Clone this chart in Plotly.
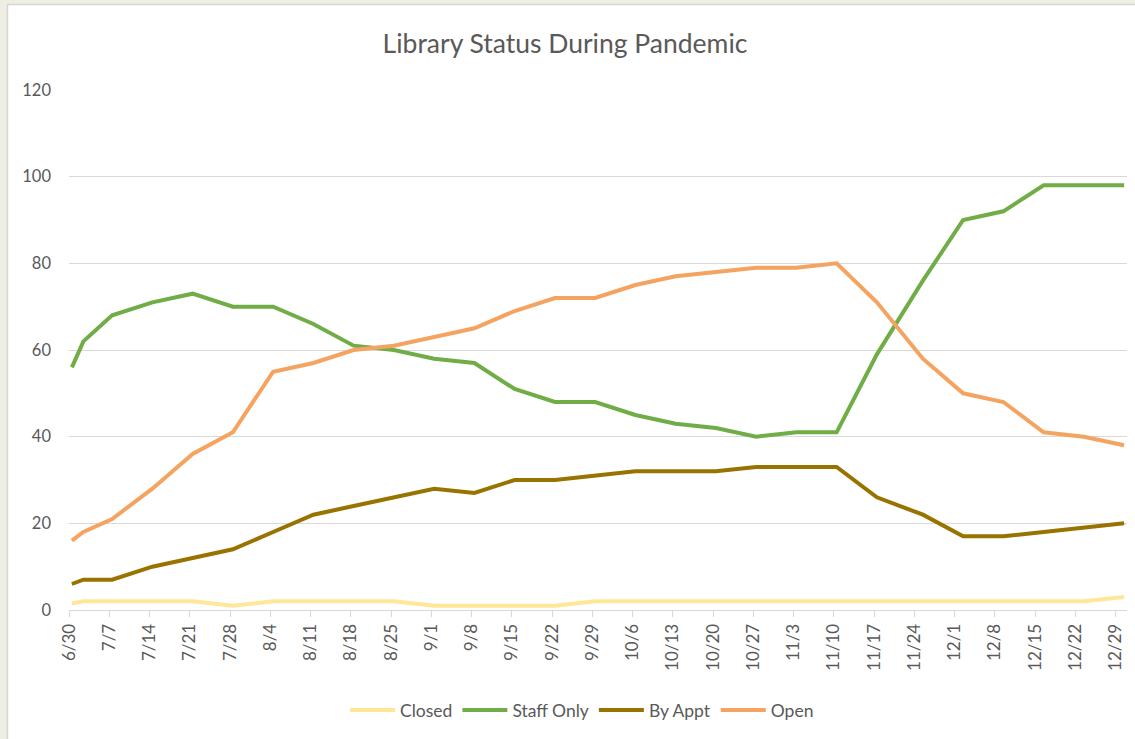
import plotly.graph_objects as go

# Data
dates = ["2020-06-30", "2020-07-02", "2020-07-07", "2020-07-14", "2020-07-21", "2020-07-28",
         "2020-08-04", "2020-08-11", "2020-08-18", "2020-08-25", "2020-09-01", "2020-09-08",
         "2020-09-15", "2020-09-22", "2020-09-29", "2020-10-06", "2020-10-13", "2020-10-20",
         "2020-10-27", "2020-11-03", "2020-11-10", "2020-11-17", "2020-11-25", "2020-12-02",
         "2020-12-09", "2020-12-16", "2020-12-23", "2020-12-30"]
closed = [1.5, 2, 2, 2, 2, 1, 2, 2, 2, 2, 1, 1, 1, 1, 2, 2, 2, 2, 2, 2, 2, 2, 2, 2, 2, 2, 2, 3]
staff_only = [56, 62, 68, 71, 73, 70, 70, 66, 61, 60, 58, 57, 51, 48, 48, 45, 43, 42, 40, 41, 41,
              59, 76, 90, 92, 98, 98, 98]
by_appt = [6, 7, 7, 10, 12, 14, 18, 22, 24, 26, 28, 27, 30, 30, 31, 32, 32, 32, 33, 33, 33,
           26, 22, 17, 17, 18, 19, 20]
open_ = [16, 18, 21, 28, 36, 41, 55, 57, 60, 61, 63, 65, 69, 72, 72, 75, 77, 78, 79, 79, 80,
         71, 58, 50, 48, 41, 40, 38]

tick_dates = ["2020-06-30", "2020-07-07", "2020-07-14", "2020-07-21", "2020-07-28", "2020-08-04",
              "2020-08-11", "2020-08-18", "2020-08-25", "2020-09-01", "2020-09-08", "2020-09-15",
              "2020-09-22", "2020-09-29", "2020-10-06", "2020-10-13", "2020-10-20", "2020-10-27",
              "2020-11-03", "2020-11-10", "2020-11-17", "2020-11-24", "2020-12-01", "2020-12-08",
              "2020-12-15", "2020-12-22", "2020-12-29"]
tick_labels = ["6/30", "7/7", "7/14", "7/21", "7/28", "8/4", "8/11", "8/18", "8/25", "9/1", "9/8",
               "9/15", "9/22", "9/29", "10/6", "10/13", "10/20", "10/27", "11/3", "11/10", "11/17",
               "11/24", "12/1", "12/8", "12/15", "12/22", "12/29"]

series = [("Closed", closed, "#FFE699"),
          ("Staff Only", staff_only, "#70AD47"),
          ("By Appt", by_appt, "#997300"),
          ("Open", open_, "#F4A460")]

# points sit in the middle of their day on the date axis (as Excel does)
x_vals = [d + "T12:00:00" for d in dates]

fig = go.Figure()
for name, vals, color in series:
    fig.add_trace(go.Scatter(x=x_vals, y=vals, mode="lines", name=name,
                             line=dict(color=color, width=4)))

W, H = 1135, 739
L, R, T, B = 69, 8, 90, 129
pw, ph = W - L - R, H - T - B

def px_x(p):
    return (p - L) / pw

def px_y(p):
    return 1 - (p - T) / ph

FONT = "Lato, Open Sans, sans-serif"
fig.update_layout(
    width=W, height=H,
    margin=dict(l=L, r=R, t=T, b=B, autoexpand=False),
    paper_bgcolor="white", plot_bgcolor="white",
    font=dict(family=FONT, color="#595959", size=17),
    title=dict(text="Library Status During Pandemic", x=px_x(565), xref="paper",
               xanchor="center", y=1 - 44 / H, yanchor="middle",
               font=dict(size=26.5, color="#595959", family=FONT)),
    legend=dict(orientation="h", x=px_x(582), xanchor="center", y=px_y(710), yanchor="middle",
                font=dict(size=17.5, color="#595959", family=FONT), itemwidth=45,
                tracegroupgap=0),
    showlegend=True,
)
fig.update_xaxes(type="date", range=["2020-06-30", "2020-12-31"], automargin=False,
                 tickmode="array", tickvals=tick_dates, ticktext=tick_labels,
                 tickangle=-90, showgrid=False, showline=True, linecolor="#D9D9D9",
                 linewidth=1, ticks="outside", ticklen=6, tickcolor="#D9D9D9",
                 tickfont=dict(size=17, color="#595959", family=FONT), zeroline=False)
fig.update_yaxes(range=[0, 120], dtick=20, showgrid=True, gridcolor="#D9D9D9", gridwidth=1,
                 zeroline=False, showline=False, ticks="", ticklabelstandoff=17, automargin=False,
                 tickfont=dict(size=16.5, color="#595959", family=FONT))

# Excel window frame strips (beige) at left and top
fig.add_shape(type="rect", xref="paper", yref="paper", x0=px_x(0), x1=px_x(7),
              y0=px_y(H), y1=px_y(0), fillcolor="#EEEEE2", line_width=0, layer="above")
fig.add_shape(type="rect", xref="paper", yref="paper", x0=px_x(0), x1=px_x(W),
              y0=px_y(4), y1=px_y(0), fillcolor="#EEEEE2", line_width=0, layer="above")
fig.add_shape(type="line", xref="paper", yref="paper", x0=px_x(7.5), x1=px_x(7.5),
              y0=px_y(H), y1=px_y(4), line=dict(color="#D6D6D6", width=1.5), layer="above")
fig.add_shape(type="line", xref="paper", yref="paper", x0=px_x(7), x1=px_x(W),
              y0=px_y(4.5), y1=px_y(4.5), line=dict(color="#D6D6D6", width=1.5), layer="above")

fig.write_html("out.html", config={"displayModeBar": False},
               post_script="document.body.style.margin='0';document.body.style.overflow='hidden';")
